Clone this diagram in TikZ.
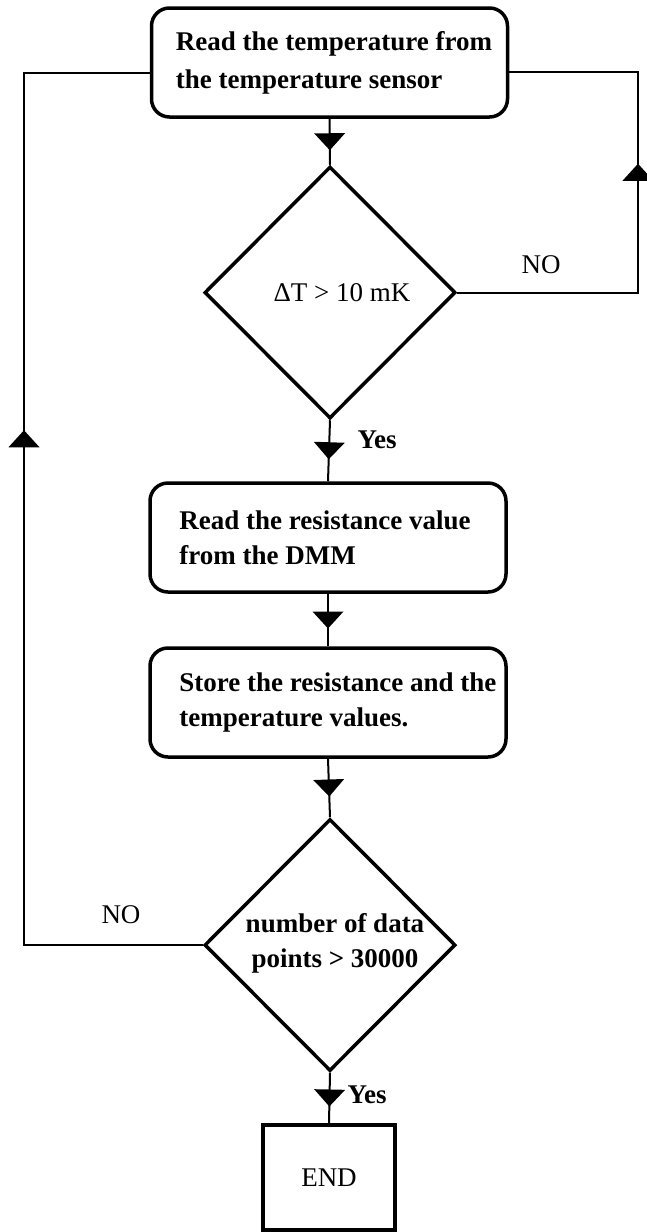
\documentclass[tikz,border=0pt]{standalone}
\usepackage{fontspec}
\setmainfont{Liberation Serif}
\usetikzlibrary{shapes.geometric,decorations.markings}

\begin{document}
\begin{tikzpicture}[x=1pt,y=-1pt,
  box/.style={draw, line width=3.5pt, rounded corners=18pt, minimum width=356pt, minimum height=109pt, inner sep=0pt},
  dia/.style={draw, diamond, line width=3.5pt, minimum width=251pt, minimum height=252pt, inner sep=0pt},
  endbox/.style={draw, line width=3.5pt, minimum width=132pt, minimum height=105pt, inner sep=0pt, font=\fontsize{27}{34}\selectfont},
  txt/.style={font=\fontsize{27}{35}\selectfont\bfseries, align=left, inner sep=0pt},
  lbl/.style={font=\fontsize{27}{34}\selectfont, inner sep=0pt},
  conn/.style={line width=2pt},
  tri/.style={postaction={decorate, decoration={markings, mark=at position #1 with {\fill (8.5,0) -- (-8.5,15.5) -- (-8.5,-15.5) -- cycle;}}}},
]
\useasboundingbox (0,0) rectangle (646,1232);

% nodes
\node[box] (b1) at (329.5,62.5) {};
\node[txt, anchor=west, font=\fontsize{27}{38}\selectfont\bfseries] (t1) at ([xshift=26pt]b1.west) {Read the temperature from\\the temperature sensor};
\node[dia] (d1) at (330,292.5) {};
\node[lbl] (t2) at (342,293) {ΔT > 10 mK};
\node[box] (b2) at (328,537.5) {};
\node[txt, anchor=west] (t3) at ([xshift=31pt]b2.west) {Read the resistance value\\from the DMM};
\node[box] (b3) at (328,702.5) {};
\node[txt, anchor=west] (t4) at ([xshift=31pt]b3.west) {Store the resistance and the\\temperature values.};
\node[dia] (d2) at (330,945) {};
\node[txt, align=center] (t5) at (335,943) {number of data\\points > 30000};
\node[endbox] (e) at (329,1177.5) {END};

% loop corner points
\coordinate (r1) at (638,292.5);
\coordinate (r2) at (638,72);
\coordinate (l1) at (24,945);
\coordinate (l2) at (24,73);

% connectors
\draw[conn, tri=0.5] (b1.south) -- (d1.north);
\draw[conn, tri=0.5] (d1.south) -- (b2.north);
\draw[conn, tri=0.5] (b2.south) -- (b3.north);
\draw[conn, tri=0.5] (b3.south) -- (d2.north);
\draw[conn, tri=0.5] (d2.south) -- (e.north);
\draw[conn, tri=301pt] (d1.east) -- (r1) -- (r2) -- (r2 -| b1.east);
\draw[conn, tri=685pt] (d2.west) -- (l1) -- (l2) -- (l2 -| b1.west);

% labels
\node[lbl] (no1) at (541,265) {NO};
\node[lbl] (no2) at (121,915) {NO};
\node[txt] (y1) at (377,440) {Yes};
\node[txt] (y2) at (367,1095) {Yes};
\end{tikzpicture}
\end{document}
